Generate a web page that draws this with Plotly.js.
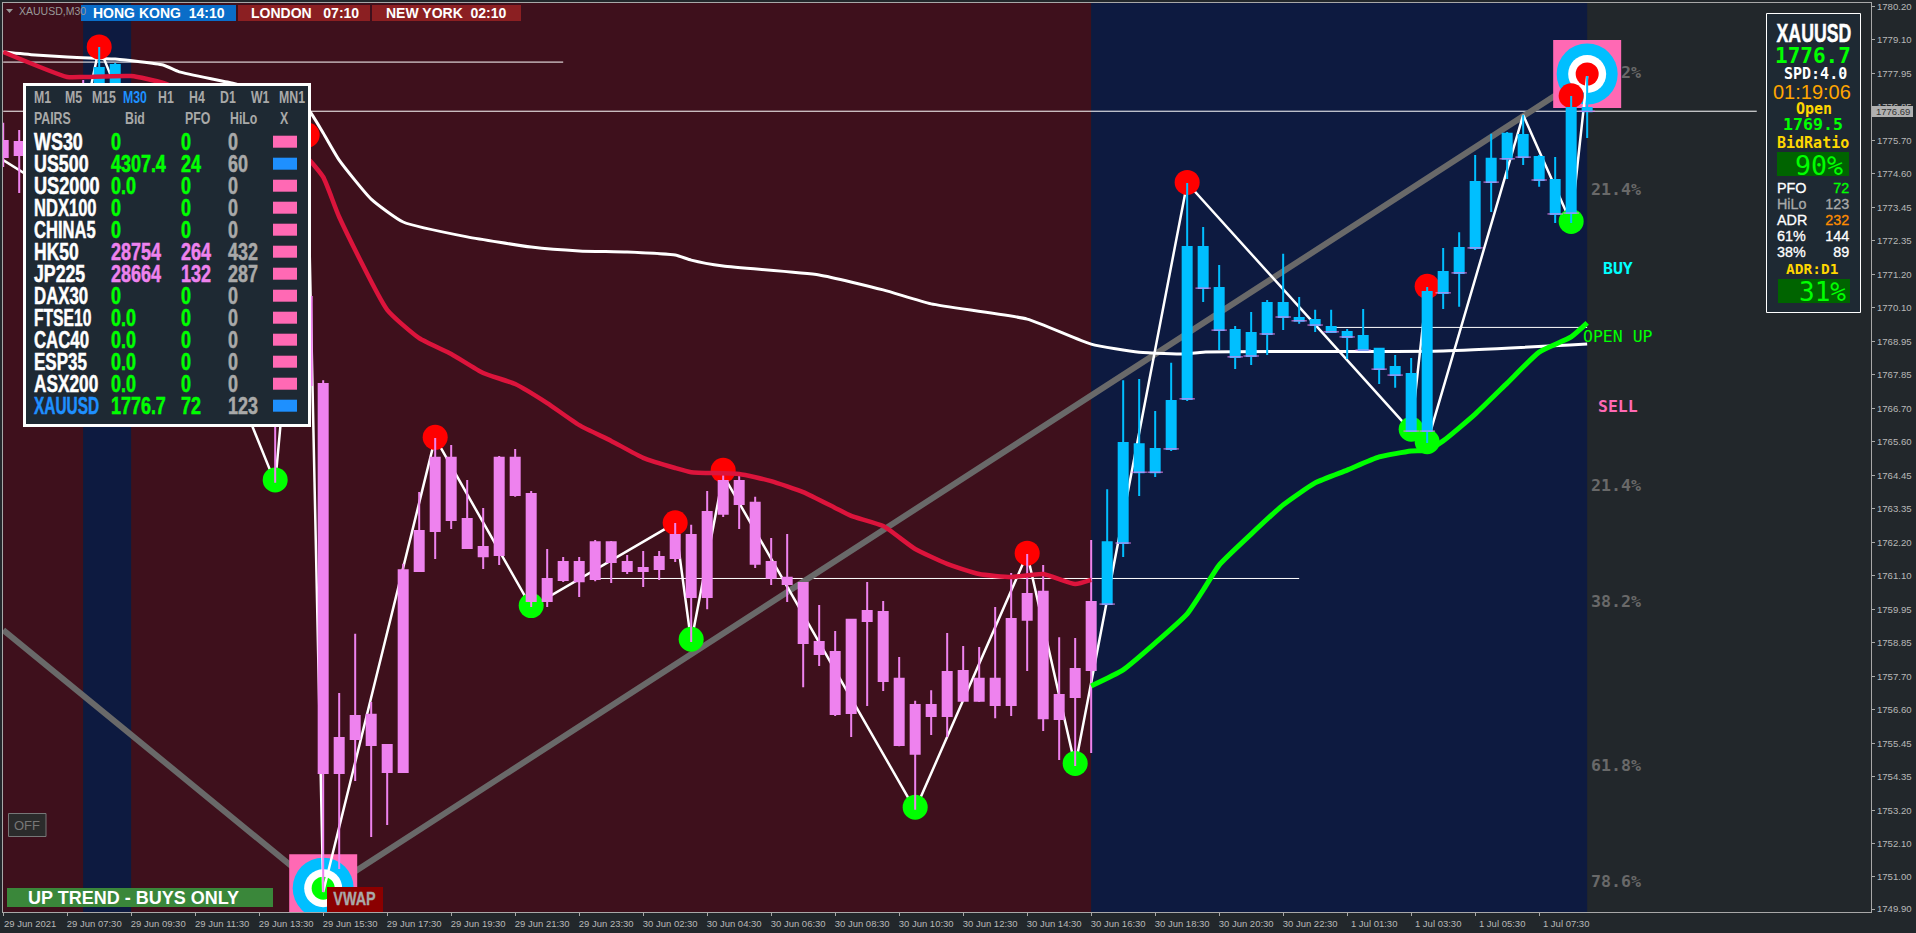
<!DOCTYPE html>
<html><head><meta charset="utf-8">
<script src="https://cdn.plot.ly/plotly-3.0.1.min.js"></script>
<style>html,body{margin:0;padding:0;background:#22272b;overflow:hidden}#c{width:1916px;height:933px}</style>
</head><body><div id="c"></div>
<script>
const highs=[1776.30,1776.06,1775.39,1774.72,1776.06,1777.74,1778.85,1778.31,1777.40,1776.40,1775.39,1774.05,1773.04,1771.86,1771.36,1770.02,1769.01,1770.35,1770.35,1775.89,
1767.66,1757.15,1759.14,1756.85,1755.41,1761.49,1763.90,1765.72,1765.48,1764.31,1763.37,1765.11,1765.35,1763.94,1761.99,1761.72,1761.72,1762.29,1762.26,1761.79,
1761.92,1761.92,1762.86,1762.80,1763.94,1764.47,1764.47,1763.74,1762.36,1762.49,1760.85,1760.11,1759.24,1759.61,1760.88,1760.24,1758.36,1756.89,1757.25,1759.17,
1758.73,1758.70,1760.04,1761.18,1761.82,1761.45,1759.03,1759.00,1762.29,1764.00,1767.66,1767.70,1766.62,1768.24,1774.28,1772.80,1771.53,1769.48,1769.95,1770.35,
1771.90,1770.45,1770.02,1770.02,1769.38,1770.05,1768.71,1768.50,1768.40,1770.79,1772.10,1772.63,1775.22,1775.93,1775.99,1776.56,1775.22,1775.15,1777.20,1777.87];
const bodyTops=[1775.69,1775.66,1774.88,1774.28,1774.38,1777.07,1778.14,1778.24,1777.07,1775.96,1774.78,1773.54,1772.53,1771.36,1770.52,1769.34,1768.34,1769.01,1769.34,1770.45,
1767.53,1755.64,1756.38,1756.42,1755.41,1761.28,1762.59,1765.05,1765.05,1763.00,1762.06,1765.05,1765.05,1763.84,1760.98,1761.55,1761.55,1762.22,1762.22,1761.55,
1761.35,1761.72,1762.46,1762.46,1763.23,1764.27,1764.27,1763.54,1761.55,1761.02,1760.85,1758.87,1758.53,1759.61,1759.91,1759.87,1757.63,1756.75,1756.75,1757.86,
1757.89,1757.63,1757.63,1759.64,1760.48,1760.55,1757.09,1757.96,1760.21,1762.22,1765.55,1765.51,1765.35,1766.96,1772.13,1772.13,1770.75,1769.34,1769.24,1770.25,
1770.25,1769.75,1769.68,1769.44,1769.28,1769.14,1768.71,1768.10,1767.87,1770.62,1771.29,1772.10,1774.31,1775.09,1775.93,1775.89,1775.15,1774.38,1776.80,1776.80];
const bodyBottoms=[1775.15,1775.22,1774.28,1773.98,1774.05,1774.38,1777.07,1777.13,1775.89,1774.72,1773.54,1772.53,1771.36,1770.52,1769.34,1768.34,1767.16,1766.99,1768.84,1767.50,
1754.47,1754.47,1755.61,1755.41,1754.50,1754.50,1761.25,1762.59,1762.96,1762.02,1761.75,1761.79,1763.80,1760.24,1760.24,1760.95,1760.91,1760.98,1761.55,1761.25,
1761.25,1761.32,1761.69,1760.38,1760.38,1763.17,1763.50,1761.49,1761.02,1760.81,1758.83,1758.46,1756.45,1756.48,1759.57,1757.56,1755.41,1755.11,1756.38,1756.38,
1756.89,1756.89,1756.75,1756.75,1759.61,1756.31,1756.28,1757.02,1757.93,1760.14,1762.19,1764.57,1764.57,1765.35,1767.03,1770.75,1769.34,1768.44,1768.47,1769.21,
1769.78,1769.65,1769.51,1769.28,1769.11,1768.67,1768.03,1767.83,1765.95,1765.95,1770.59,1771.26,1772.10,1774.31,1775.09,1775.15,1774.38,1773.24,1773.27,1776.69];
const lows=[1774.82,1773.94,1774.05,1773.78,1773.71,1774.05,1776.73,1776.90,1775.56,1774.38,1773.21,1772.03,1770.86,1770.02,1768.84,1767.66,1766.66,1764.21,1767.50,1767.26,
1750.47,1751.24,1754.20,1752.32,1752.72,1754.47,1761.22,1761.65,1762.66,1761.99,1761.32,1761.45,1763.74,1760.04,1760.04,1760.88,1760.38,1760.91,1760.85,1761.15,
1760.71,1760.95,1761.55,1758.87,1759.97,1763.06,1762.66,1761.35,1760.78,1760.21,1757.35,1758.06,1756.38,1755.68,1756.72,1757.22,1755.37,1753.23,1755.74,1755.68,
1756.89,1756.85,1756.31,1756.38,1757.89,1755.88,1754.90,1754.70,1755.14,1760.14,1761.72,1763.77,1764.41,1765.28,1766.96,1770.28,1768.67,1768.03,1768.17,1768.50,
1769.34,1769.55,1769.28,1769.28,1768.37,1768.64,1767.53,1767.40,1765.95,1765.55,1770.05,1770.12,1772.03,1773.31,1774.41,1774.88,1774.15,1772.94,1772.94,1775.79];
const blueBars=[6,7,69,70,71,72,73,74,75,76,77,78,79,80,81,82,83,84,85,86,87,88,89,90,91,92,93,94,95,96,97,98,99];

const zigBars=[0,4,6,17,19,20,27,33,42,43,45,57,64,67,74,88,89,89,95,98,99];
const zigPrices=[1775.05,1773.71,1778.85,1764.21,1775.89,1750.47,1765.72,1760.04,1762.86,1758.87,1764.47,1753.23,1761.82,1754.70,1774.28,1765.95,1770.79,1765.55,1776.56,1772.94,1777.87];
const redBars=[6,19,27,42,45,64,74,89,98];
const redPrices=[1778.85,1775.89,1765.74,1762.87,1764.63,1761.85,1774.30,1770.81,1777.21];
const greenBars=[17,33,43,57,67,88,89,98];
const greenPrices=[1764.31,1760.09,1758.96,1753.32,1754.79,1766.01,1765.59,1772.99];
const crimsonBars=[0,4,5,8,10,13,16,19,20,21,24,26,28,30,32,34,36,38,40,42,43,46,48,50,52,53,55,57,59,61,63,65,67,68];
const crimsonMA=[1778.68,1777.84,1777.84,1777.87,1777.64,1776.90,1776.06,1775.12,1774.48,1773.14,1770.02,1769.07,1768.54,1767.90,1767.53,1766.89,1766.15,1765.62,1765.05,1764.71,1764.57,1764.51,1764.27,1763.90,1763.37,1763.10,1762.76,1761.99,1761.49,1761.15,1761.05,1761.15,1760.81,1760.95];
const limeBars=[68,70,72,74,75,76,78,80,82,84,86,88,89,90,92,94,96,98,99];
const limeMA=[1757.39,1757.93,1758.83,1759.81,1760.61,1761.45,1762.49,1763.47,1764.21,1764.64,1765.08,1765.28,1765.31,1765.62,1766.52,1767.56,1768.60,1769.11,1769.58];
const whiteBars=[0,2,4,7,10,11,14,16,18,19,20,21,23,25,29,33,36,39,42,43,45,51,55,58,64,68,71,74,75,90,99];
const whiteMA=[1778.68,1778.58,1778.51,1778.44,1778.24,1778.01,1777.67,1777.40,1777.13,1776.80,1775.96,1775.05,1773.74,1772.97,1772.47,1772.13,1772.00,1771.96,1771.86,1771.69,1771.49,1771.19,1770.69,1770.22,1769.71,1768.87,1768.60,1768.54,1768.60,1768.64,1768.87];
const trendBars=[0,20,99];
const trendPrices=[1759.27,1750.47,1777.91];
const levels=[[0,35,1778.34],[0,109.6,1776.69],[37,81,1761.00],[83,99,1769.43]];
const priceTicks=[1780.20,1779.10,1777.95,1776.85,1775.70,1774.60,1773.45,1772.35,1771.20,1770.10,1768.95,1767.85,1766.70,1765.60,1764.45,1763.35,1762.20,1761.10,1759.95,1758.85,1757.70,1756.60,1755.45,1754.35,1753.20,1752.10,1751.00,1749.90];
const timeLabels=['29 Jun 2021','29 Jun 07:30','29 Jun 09:30','29 Jun 11:30','29 Jun 13:30','29 Jun 15:30','29 Jun 17:30','29 Jun 19:30','29 Jun 21:30','29 Jun 23:30','30 Jun 02:30','30 Jun 04:30','30 Jun 06:30','30 Jun 08:30','30 Jun 10:30','30 Jun 12:30','30 Jun 14:30','30 Jun 16:30','30 Jun 18:30','30 Jun 20:30','30 Jun 22:30','1 Jul 01:30','1 Jul 03:30','1 Jul 05:30','1 Jul 07:30'];
const bullseyes=[{bar:20,price:1750.60,core:'#00ff00'},{bar:99,price:1777.94,core:'#ff0000'}];
const timeframes=['M1','M5','M15','M30','H1','H4','D1','W1','MN1'];
const pairs=['WS30','US500','US2000','NDX100','CHINA5','HK50','JP225','DAX30','FTSE10','CAC40','ESP35','ASX200','XAUUSD'];
const pairSqueeze=[.78,.776,.79,.72,.72,.76,.77,.73,.68,.73,.74,.75,.67];
const bids=['0','4307.4','0.0','0','0','28754','28664','0','0.0','0.0','0.0','0.0','1776.7'];
const pfos=['0','24','0','0','0','264','132','0','0','0','0','0','72'];
const hilos=['0','60','0','0','0','432','287','0','0','0','0','0','123'];
const bullishPairs=['US500','XAUUSD'];
const bearishColoured=['HK50','JP225'];

const L=3,R=1871,T=3,B=912,W=1868,H=909;
const px=x=>(x-L)/W, py=y=>(B-y)/H;
const MONO='DejaVu Sans Mono',SANS='Liberation Sans';
const ann=[],squeeze=[],shp=[];
function txt(t,x,y,o){o=o||{};const a=o.a||'left';squeeze.push(o.k?{k:o.k,a,fat:o.fat||0}:null);ann.push({text:t,xref:'paper',yref:'paper',x:px(x),y:py(y),showarrow:false,xanchor:a,yanchor:'middle',borderpad:0,
 font:{family:o.f||SANS,size:o.s||14,color:o.c||'#fff',weight:o.w===undefined?700:o.w}});}
function box(x0,y0,x1,y1,fill,line,lw){shp.push({type:'rect',xref:'paper',yref:'paper',x0:px(x0),x1:px(x1),y0:py(y0),y1:py(y1),fillcolor:fill,line:{color:line||fill,width:line?(lw||1):0},layer:'above'});}

const bandEdges=[[0,5,'#3e101c'],[5,8,'#0d1a40'],[8,68,'#3e101c'],[68,99,'#0d1a40']];
const bandShapes=bandEdges.map(b=>({type:'rect',xref:'x',yref:'paper',x0:b[0],x1:b[1],y0:0,y1:1,fillcolor:b[2],line:{width:0},layer:'below'}));

txt('XAUUSD,M30',18,11,{s:10.5,c:'#999',w:400});
box(81,5,236,21,'#0a6dc8');box(238,5,370,21,'#8b1f22');box(372,5,521,21,'#8b1f22');
txt('HONG KONG&#160;&#160;14:10',158.5,13,{a:'center',s:14});
txt('LONDON&#160;&#160;&#160;07:10',304.5,13,{a:'center',s:14});
txt('NEW YORK&#160;&#160;02:10',446.5,13,{a:'center',s:14});
shp.push({type:'path',xref:'paper',yref:'paper',path:`M${px(6)},${py(9)} L${px(13)},${py(9)} L${px(9.5)},${py(13)} Z`,fillcolor:'#999',line:{width:0},layer:'above'});

box(24.5,84.5,309.5,425.5,'#1e2933','#ffffff',3);
const tfX=[33,64,91.4,122,157,188,219,250,277.5];
timeframes.forEach((t,i)=>txt(t,tfX[i],98,{s:16,k:.77,c:t==='M30'?'#1e90ff':'#a9a9a9'}));
[['PAIRS',33],['Bid',124],['PFO',184],['HiLo',228.6],['X',278.5]].forEach(h=>txt(h[0],h[1],118.7,{s:16,k:.77,c:'#a9a9a9'}));
pairs.forEach((p,i)=>{
  const y=141.7+22*i;
  const bull=bullishPairs.includes(p),vio=bearishColoured.includes(p);
  const vc=vio?'#ee82ee':'#00ff00';
  const o={s:23,k:.78,fat:.5};
  txt(p,33,y,{...o,k:pairSqueeze[i],c:p==='XAUUSD'?'#1e90ff':'#fff'});
  txt(bids[i],110,y,{...o,c:vc});
  txt(pfos[i],180,y,{...o,c:vc});
  txt(hilos[i],226.5,y,{...o,c:'#a9a9a9'});
  box(273,y-6,297,y+6,bull?'#1e90ff':'#ff69b4');
});

box(1766.5,13.5,1860.5,312.5,'#1e2933','#ffffff',1);
txt('XAUUSD',1814,33,{a:'center',s:26,k:.68,fat:.5});
txt('1776.7',1813,55.7,{a:'center',f:MONO,s:21,c:'#00ff00'});
txt('SPD:4.0',1815,74,{a:'center',f:MONO,s:15});
txt('01:19:06',1812,92,{a:'center',s:20,c:'#ffa500',w:400});
txt('Open',1814,108.7,{a:'center',f:MONO,s:15,c:'#ffd700'});
txt('1769.5',1812.7,124.3,{a:'center',f:MONO,s:16.6,c:'#00ff00'});
txt('BidRatio',1813.3,143.3,{a:'center',f:MONO,s:15,c:'#ffd700'});
box(1777,152,1849,176,'#006400');
txt('90%',1819,165,{a:'center',f:MONO,s:26.6,c:'#00ff00',w:400});
[['PFO','72',187.7,'#fff','#00ff00'],['HiLo','123',204,'#a9a9a9','#a9a9a9'],['ADR','232',220,'#fff','#ff8c00'],['61%','144',236,'#fff','#fff'],['38%','89',252,'#fff','#fff']].forEach(r=>{
  txt(r[0],1775.5,r[2],{s:14.5,c:r[3],w:400,k:.99,fat:.3});
  txt(r[1],1850,r[2],{a:'right',s:14.5,c:r[4],w:400,k:.99,fat:.3});
});
txt('ADR:D1',1812,269,{a:'center',f:MONO,s:14.5,c:'#ffd700'});
box(1778,279,1850,303,'#006400');
txt('31%',1822.7,291.7,{a:'center',f:MONO,s:26,c:'#00ff00',w:400});

[['2%',72.5],['21.4%',189.5],['21.4%',485.5],['38.2%',601.5],['61.8%',765.5],['78.6%',881.5]].forEach(f=>txt(f[0],1642,f[1],{a:'right',f:MONO,s:16.6,c:'#696969'}));
txt('BUY',1602,268,{f:MONO,s:16.5,c:'#00ffff',w:700});
txt('OPEN UP',1582,337,{f:MONO,s:16.5,c:'#00ff00',w:400});
txt('SELL',1597,406,{f:MONO,s:16.5,c:'#ff69b4',w:700});

box(8.5,813.5,46,836.5,'#2b2b2b','#777',1);
txt('OFF',27,825,{a:'center',s:13,c:'#777',w:400});
box(7,888,273,907,'#3a873a');
txt('UP TREND - BUYS ONLY',133,898,{a:'center',s:18});
box(327,887,383,912,'#8b0000');
txt('VWAP',354,899,{a:'center',s:18,k:.8,c:'#a9a9a9',fat:.3});

box(1872,106,1913,117,'#b0b0b0');
txt('1776.69',1892.5,112,{a:'center',s:9.5,c:'#333',w:400});

const allBars=highs.map((_,i)=>i);
const pinkBars=allBars.filter(i=>!blueBars.includes(i));
const candle=(idx,col,name)=>({type:'candlestick',name,yaxis:'y2',x:idx,open:idx.map(i=>bodyBottoms[i]),close:idx.map(i=>bodyTops[i]),high:idx.map(i=>highs[i]),low:idx.map(i=>lows[i]),
 whiskerwidth:0,increasing:{line:{color:col,width:2},fillcolor:col},decreasing:{line:{color:col,width:2},fillcolor:col},hoverinfo:'skip',showlegend:false});
const line=(x,y,col,w,ax,shape)=>({type:'scatter',mode:'lines',x,y,yaxis:ax||'y',line:{color:col,width:w,shape:shape||'linear',smoothing:0.5},hoverinfo:'skip',showlegend:false});
const dots=(x,y,col,size,sym,ax)=>({type:'scatter',mode:'markers',x,y,yaxis:ax||'y',marker:{color:col,size,symbol:sym||'circle',line:{width:0}},hoverinfo:'skip',showlegend:false});

const traces=[];
levels.forEach(l=>traces.push(line([l[0],l[1]],[l[2],l[2]],'#ffffff',1)));
traces.push(line(trendBars,trendPrices,'#696969',6));
bullseyes.forEach(b=>{
  traces.push(dots([b.bar],[b.price],'#ff69b4',68,'square'));
  traces.push(dots([b.bar],[b.price],'#00bfff',61));
  traces.push(dots([b.bar],[b.price],'#ffffff',38));
  traces.push(dots([b.bar],[b.price],b.core,23));
});
traces.push(line(whiteBars,whiteMA,'#ffffff',3,'y','spline'));
traces.push(line(zigBars,zigPrices,'#ffffff',2.5));
traces.push(dots(redBars,redPrices,'#ff0000',25));
traces.push(dots(greenBars,greenPrices,'#00ff00',25));
traces.push(candle(pinkBars,'#ee82ee','bear'));
traces.push(candle(blueBars,'#00bfff','bull'));
traces.push({type:'scatter',mode:'markers',x:blueBars,y:blueBars.map(i=>bodyBottoms[i]),yaxis:'y3',marker:{symbol:'line-ew',size:11,color:'#ee82ee',line:{color:'#ee82ee',width:1}},hoverinfo:'skip',showlegend:false});
traces.push(line(crimsonBars,crimsonMA,'#dc143c',4.5,'y3','spline'));
traces.push(line(limeBars,limeMA,'#00ff00',5,'y3','spline'));

const yRange=[1749.80,1780.324];
const layout={width:1916,height:933,margin:{l:L,r:1916-R,t:T,b:933-B,pad:0},paper_bgcolor:'#22272b',plot_bgcolor:'#22272b',showlegend:false,hovermode:false,dragmode:false,
 boxgap:0.4375,boxgroupgap:0,
 xaxis:{range:[-0.0125,116.74],type:'linear',tickmode:'array',tickvals:timeLabels.map((_,i)=>i*4),ticktext:timeLabels,tickangle:0,ticks:'outside',ticklen:3,tickcolor:'#a8a8a8',tickwidth:1,
  showgrid:false,zeroline:false,showline:true,linecolor:'#a8a8a8',linewidth:1,mirror:true,rangeslider:{visible:false},ticklabelshift:27,ticklabeloverflow:'allow',fixedrange:true,
  tickfont:{family:SANS,size:9.5,color:'#b8b8b8'}},
 yaxis:{range:yRange,side:'right',tickmode:'array',tickvals:priceTicks,tickformat:'.2f',ticks:'outside',ticklen:3,tickcolor:'#a8a8a8',tickwidth:1,showgrid:false,zeroline:false,showline:true,linecolor:'#a8a8a8',linewidth:1,mirror:true,fixedrange:true,
  tickfont:{family:SANS,size:9.6,color:'#b8b8b8'}},
 yaxis2:{range:yRange,overlaying:'y',side:'right',visible:false,fixedrange:true},
 yaxis3:{range:yRange,overlaying:'y',side:'right',visible:false,fixedrange:true},
 shapes:bandShapes.concat(shp),annotations:ann};
Plotly.newPlot('c',traces,layout,{displayModeBar:false,staticPlot:true,responsive:false}).then(()=>{
  document.querySelectorAll('#c .annotation').forEach(g=>{
    const s=squeeze[+g.getAttribute('data-index')];
    if(!s)return;
    const t=g.querySelector('text');if(!t)return;
    const w=t.getComputedTextLength(),x0=+t.getAttribute('x');
    const nw=s.k*w;
    const c=s.a==='left'?x0-w/2+nw/2:s.a==='right'?x0+w/2-nw/2:x0;
    t.setAttribute('transform',`translate(${c},0) scale(${s.k},1) translate(${-x0},0)`);
    g.querySelectorAll('rect').forEach(r=>{const rw=+r.getAttribute('width');if(rw){r.setAttribute('width',rw*s.k);if(s.a==='center')r.setAttribute('x',+r.getAttribute('x')+rw*(1-s.k)/2);if(s.a==='right')r.setAttribute('x',+r.getAttribute('x')+rw*(1-s.k));}});
    if(s.fat){t.style.stroke=t.style.fill;t.style.strokeWidth=s.fat+'px';}
  });
});
</script></body></html>
